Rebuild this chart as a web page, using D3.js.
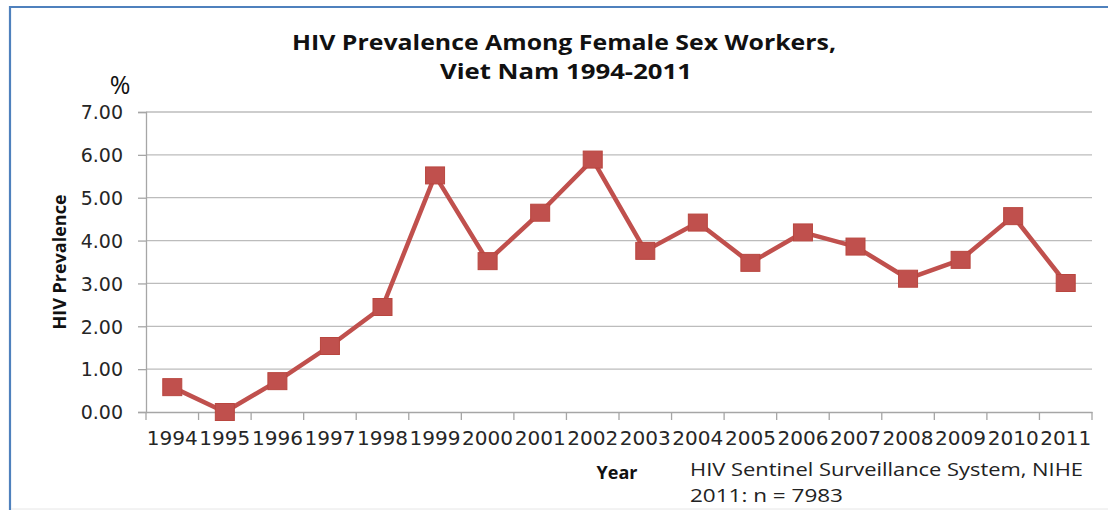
<!DOCTYPE html>
<html>
<head>
<meta charset="utf-8">
<script src="https://cdn.jsdelivr.net/npm/d3@7"></script>
<style>
  html, body { margin: 0; padding: 0; background: #fff; }
  svg { display: block; }
</style>
</head>
<body>
<svg id="chart" width="1108" height="510"></svg>
<script>
// HIV prevalence (%) among female sex workers, sentinel surveillance
const years = ["1994","1995","1996","1997","1998","1999","2000","2001","2002",
               "2003","2004","2005","2006","2007","2008","2009","2010","2011"];
const prevalence = [0.58, 0.00, 0.72, 1.54, 2.45, 5.52, 3.52, 4.65, 5.89,
                    3.76, 4.42, 3.48, 4.19, 3.86, 3.11, 3.55, 4.57, 3.01];
const yTicks = [0, 1, 2, 3, 4, 5, 6, 7];
const titleLines = ["HIV Prevalence Among Female Sex Workers,", "Viet Nam 1994-2011"];
const sourceLines = ["HIV Sentinel Surveillance System, NIHE", "2011: n = 7983"];

const svg = d3.select("#chart");
const W = 1108, H = 510;
const plot = { left: 146, right: 1092, top: 112, bottom: 412 };

const x = d3.scaleBand().domain(years).range([plot.left, plot.right]);
const y = d3.scaleLinear().domain([0, 7]).range([plot.bottom, plot.top]);

const red = "#c0504d";
const tickFont = "'DejaVu Sans', Verdana, sans-serif";
const boldFont = "'Open Sans', 'Noto Sans', sans-serif";

// frame: blue top and left edges, faint bottom edge
svg.append("line").attr("x1", 10).attr("x2", W).attr("y1", 7).attr("y2", 7)
  .attr("stroke", "#4f81bd").attr("stroke-width", 2);
svg.append("line").attr("x1", 10).attr("x2", 10).attr("y1", 6).attr("y2", H)
  .attr("stroke", "#4f81bd").attr("stroke-width", 2.2);
svg.append("line").attr("x1", 11).attr("x2", W).attr("y1", 509).attr("y2", 509)
  .attr("stroke", "#e6e6e6").attr("stroke-width", 1);

// horizontal gridlines
svg.append("g").selectAll("line").data(yTicks.filter(d => d > 0)).join("line")
  .attr("x1", plot.left).attr("x2", plot.right)
  .attr("y1", d => y(d)).attr("y2", d => y(d))
  .attr("stroke", "#bcbcbc").attr("stroke-width", 1.3);

// y axis
const yAxis = svg.append("g").attr("transform", `translate(${plot.left},0)`)
  .call(d3.axisLeft(y).tickValues(yTicks).tickFormat(d3.format(".2f"))
    .tickSize(8).tickPadding(15));
yAxis.select(".domain").attr("stroke", "#a6a6a6").attr("stroke-width", 1.3);
yAxis.selectAll(".tick line").attr("stroke", "#a6a6a6").attr("stroke-width", 1.3);
yAxis.selectAll(".tick text").attr("font-family", tickFont).attr("font-size", 19)
  .attr("fill", "#262626").attr("dy", "0.36em");

// x axis with ticks between categories
const xAxis = svg.append("g").attr("transform", `translate(0,${plot.bottom})`)
  .call(d3.axisBottom(x).tickSize(0).tickPadding(20));
xAxis.select(".domain").attr("stroke", "#a6a6a6").attr("stroke-width", 1.3);
xAxis.selectAll(".tick text").attr("font-family", tickFont).attr("font-size", 19)
  .attr("fill", "#262626")
  .attr("textLength", 51).attr("lengthAdjust", "spacingAndGlyphs");
const bounds = years.map(d => x(d)).concat([plot.right]);
xAxis.append("g").selectAll("line").data(bounds).join("line")
  .attr("x1", d => d).attr("x2", d => d).attr("y1", 0).attr("y2", 8)
  .attr("stroke", "#a6a6a6").attr("stroke-width", 1.3);

// series line and square markers
const cx = d => x(d) + x.bandwidth() / 2;
const line = d3.line().x((d, i) => cx(years[i])).y(d => y(d));
svg.append("path").datum(prevalence).attr("d", line)
  .attr("fill", "none").attr("stroke", red).attr("stroke-width", 4.5)
  .attr("stroke-linejoin", "round");
const mw = 19, mh = 17;
svg.append("g").selectAll("rect").data(prevalence).join("rect")
  .attr("x", (d, i) => cx(years[i]) - mw / 2)
  .attr("y", d => y(d) - mh / 2)
  .attr("width", mw).attr("height", mh)
  .attr("fill", red).attr("stroke", "#b9463f").attr("stroke-width", 1);

// title
svg.append("text").attr("x", 564).attr("y", 50).attr("text-anchor", "middle")
  .attr("font-family", boldFont).attr("font-weight", "bold").attr("font-size", 21)
  .attr("fill", "#111").attr("textLength", 544).attr("lengthAdjust", "spacingAndGlyphs")
  .text(titleLines[0]);
svg.append("text").attr("x", 566).attr("y", 79).attr("text-anchor", "middle")
  .attr("font-family", boldFont).attr("font-weight", "bold").attr("font-size", 21)
  .attr("fill", "#111").attr("textLength", 252).attr("lengthAdjust", "spacingAndGlyphs")
  .text(titleLines[1]);

// unit label
svg.append("text").attr("x", 120).attr("y", 94).attr("text-anchor", "middle")
  .attr("font-family", boldFont).attr("font-size", 25).attr("fill", "#111")
  .text("%");

// axis titles
svg.append("text").attr("transform", "translate(66,262) rotate(-90)")
  .attr("text-anchor", "middle").attr("font-family", boldFont)
  .attr("font-weight", "bold").attr("font-size", 18).attr("fill", "#111")
  .text("HIV Prevalence");
svg.append("text").attr("x", 617).attr("y", 479).attr("text-anchor", "middle")
  .attr("font-family", boldFont).attr("font-weight", "bold").attr("font-size", 18)
  .attr("fill", "#111").text("Year");

// source note
svg.append("text").attr("x", 690).attr("y", 476)
  .attr("font-family", boldFont).attr("font-size", 18).attr("fill", "#222")
  .attr("textLength", 393).attr("lengthAdjust", "spacingAndGlyphs")
  .text(sourceLines[0]);
svg.append("text").attr("x", 690).attr("y", 502)
  .attr("font-family", boldFont).attr("font-size", 18).attr("fill", "#222")
  .attr("textLength", 153).attr("lengthAdjust", "spacingAndGlyphs")
  .text(sourceLines[1]);
</script>
</body>
</html>
